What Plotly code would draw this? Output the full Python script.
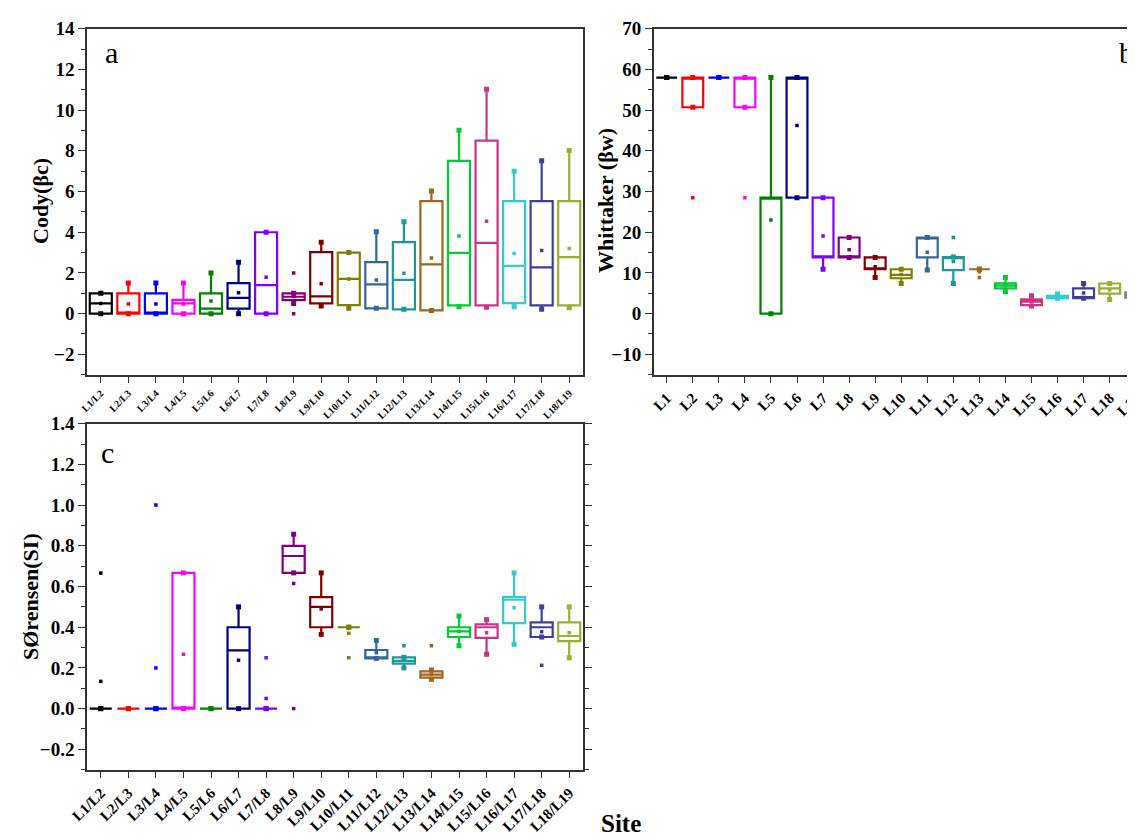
import plotly.graph_objects as go

W, H = 1135, 839

pairs = ["L1/L2", "L2/L3", "L3/L4", "L4/L5", "L5/L6", "L6/L7", "L7/L8", "L8/L9", "L9/L10",
         "L10/L11", "L11/L12", "L12/L13", "L13/L14", "L14/L15", "L15/L16", "L16/L17", "L17/L18", "L18/L19"]
sites = ["L1", "L2", "L3", "L4", "L5", "L6", "L7", "L8", "L9", "L10", "L11", "L12", "L13",
         "L14", "L15", "L16", "L17", "L18", "L19"]

colors = ["#000000", "#FF0000", "#0000FF", "#FF00FF", "#008000", "#000080", "#8000FF", "#800080",
          "#800000", "#808000", "#336699", "#1A9999", "#A0661E", "#00CC33", "#CC3388", "#33CCCC",
          "#3F3F9A", "#99B033", "#808080"]

# Panel a: Cody (beta c)
cody_q1 = [0, 0, 0, 0, 0, 0.25, 0, 0.66, 0.5, 0.42, 0.26, 0.21, 0.16, 0.41, 0.41, 0.52, 0.41, 0.41]
cody_med = [0.5, 0, 0, 0.5, 0.25, 0.77, 1.4, 0.83, 0.85, 1.71, 1.44, 1.66, 2.42, 2.99, 3.48, 2.35, 2.27, 2.78]
cody_q3 = [1, 1, 1, 0.68, 1, 1.5, 4.0, 1.0, 3.02, 3.0, 2.53, 3.51, 5.53, 7.51, 8.5, 5.53, 5.53, 5.53]
cody_lo = [0, 0, 0, 0, 0, 0, 0, 0.5, 0.37, 0.26, 0.26, 0.21, 0.16, 0.34, 0.31, 0.34, 0.21, 0.29]
cody_hi = [1, 1.5, 1.5, 1.5, 2.0, 2.53, 4.0, 1.0, 3.51, 3.0, 4.02, 4.51, 6.02, 9.01, 11.02, 7.0, 7.51, 8.01]
cody_mean = [0.5, 0.47, 0.47, 0.47, 0.62, 1.03, 1.79, 0.85, 1.47, 1.7, 1.65, 1.99, 2.73, 3.81, 4.54, 2.96, 3.1, 3.2]
cody_out = {7: [2.0, 0.0]}

# Panel b: Whittaker (beta w)
wh_q1 = [58, 50.7, 58, 50.7, 0, 28.5, 13.8, 13.8, 10.9, 8.7, 13.8, 10.7, 10.9, 6.2, 2.1, 3.8, 3.8, 4.9, 3.9]
wh_med = [58, 58, 58, 58, 28.5, 58, 13.8, 13.8, 10.9, 9.5, 18.7, 13.9, 10.9, 6.9, 2.95, 4.1, 3.8, 6.2, 4.5]
wh_q3 = [58, 58, 58, 58, 28.5, 58, 28.5, 18.7, 13.8, 10.9, 18.7, 13.9, 10.9, 7.46, 3.5, 4.4, 6.2, 7.4, 5.2]
wh_lo = [58, 50.7, 58, 50.7, 0, 28.5, 10.9, 13.8, 8.85, 7.4, 10.7, 7.4, 10.9, 5.4, 1.9, 3.8, 3.8, 3.5, 2.8]
wh_hi = [58, 58, 58, 58, 58, 58, 28.5, 18.7, 13.8, 10.9, 18.7, 13.9, 10.9, 8.85, 4.4, 4.8, 7.4, 7.4, 5.6]
wh_mean = [58, 50.7, 58, 50.7, 23.0, 46.2, 19.1, 15.7, 11.5, 9.6, 15.1, 12.8, 10.3, 6.9, 2.9, 4.2, 5.1, 5.8, 4.4]
wh_out = {1: [28.5], 3: [28.5], 11: [18.7], 12: [8.85]}

# Panel c: Sorensen (SI)
so_q1 = [0, 0, 0, 0, 0, 0, 0, 0.667, 0.40, 0.40, 0.247, 0.221, 0.152, 0.352, 0.348, 0.42, 0.352, 0.332]
so_med = [0, 0, 0, 0, 0, 0.286, 0, 0.75, 0.50, 0.40, 0.25, 0.235, 0.167, 0.38, 0.40, 0.535, 0.40, 0.357]
so_q3 = [0, 0, 0, 0.667, 0, 0.40, 0, 0.80, 0.548, 0.40, 0.288, 0.252, 0.183, 0.40, 0.414, 0.548, 0.424, 0.424]
so_lo = [0, 0, 0, 0, 0, 0, 0, 0.667, 0.365, 0.40, 0.247, 0.20, 0.144, 0.309, 0.267, 0.316, 0.352, 0.25]
so_hi = [0, 0, 0, 0.667, 0, 0.50, 0, 0.857, 0.667, 0.40, 0.335, 0.252, 0.19, 0.455, 0.437, 0.667, 0.50, 0.50]
so_mean = [0.134, 0, 0.2, 0.267, 0, 0.238, 0.05, 0.667, 0.49, 0.37, 0.275, 0.239, 0.17, 0.38, 0.373, 0.496, 0.378, 0.373]
so_out = {0: [0.666], 2: [1.0], 6: [0.25], 7: [0.615, 0.0], 9: [0.25], 11: [0.309], 12: [0.309], 16: [0.213]}

FONT = "Liberation Serif"
fig = go.Figure()


def add_panel(xa, ya, q1, med, q3, lo, hi, mean, outs):
    for i in range(len(q1)):
        c = colors[i]
        fig.add_trace(go.Box(
            x=[i], q1=[q1[i]], median=[med[i]], q3=[q3[i]],
            lowerfence=[lo[i]], upperfence=[hi[i]],
            width=0.8, whiskerwidth=0, boxpoints=False,
            line=dict(color=c, width=2.2), fillcolor="rgba(0,0,0,0)",
            xaxis=xa, yaxis=ya, showlegend=False, hoverinfo="skip"))
        ys = [lo[i], hi[i]]
        fig.add_trace(go.Scatter(
            x=[i] * 2, y=ys, mode="markers", xaxis=xa, yaxis=ya,
            marker=dict(symbol="square", size=5, color=c), showlegend=False, hoverinfo="skip"))
        pts = [mean[i]] + outs.get(i, [])
        fig.add_trace(go.Scatter(
            x=[i] * len(pts), y=pts, mode="markers", xaxis=xa, yaxis=ya,
            marker=dict(symbol="square", size=3.5, color=c), showlegend=False, hoverinfo="skip"))


add_panel("x", "y", cody_q1, cody_med, cody_q3, cody_lo, cody_hi, cody_mean, cody_out)
add_panel("x2", "y2", wh_q1, wh_med, wh_q3, wh_lo, wh_hi, wh_mean, wh_out)
add_panel("x3", "y3", so_q1, so_med, so_q3, so_lo, so_hi, so_mean, so_out)

xa_dom = [79 / W, 575 / W]
xb_dom = [645.7 / W, 1.0]
yab_dom = [1 - 366.7 / H, 1 - 20.7 / H]
yc_dom = [1 - 761.7 / H, 1 - 415.7 / H]

tickfont_y = dict(family=FONT, size=19, color="black", weight="bold")
base_x = dict(showgrid=False, zeroline=False, showline=True, linecolor="#333", linewidth=1.5,
              ticks="outside", ticklen=7, tickwidth=1.2, tickcolor="#333", tickangle=-45,
              tickmode="array", automargin=False, ticklabeloverflow="allow")
base_y = dict(showgrid=False, zeroline=False, showline=True, linecolor="#333", linewidth=1.5,
              ticks="outside", ticklen=7, tickwidth=1.2, tickcolor="#333", tickfont=tickfont_y,
              automargin=False,
              minor=dict(ticks="outside", ticklen=4, tickwidth=1, tickcolor="#333", showgrid=False))

fig.update_layout(
    width=W, height=H, margin=dict(l=0, r=0, t=0, b=0),
    paper_bgcolor="white", plot_bgcolor="white", boxmode="overlay",
    font=dict(family=FONT, color="black"),
    xaxis=dict(base_x, domain=xa_dom, anchor="y", range=[-0.5, 17.5], mirror=True,
               tickvals=list(range(len(pairs))), ticktext=pairs,
               tickfont=dict(family=FONT, size=10, color="black", weight="bold")),
    yaxis=dict(base_y, domain=yab_dom, anchor="x", range=[-3, 14], mirror=True,
               dtick=2, tick0=0, minor_dtick=1),
    xaxis2=dict(base_x, domain=xb_dom, anchor="y2", range=[-0.5, 18.28], mirror=True,
                tickvals=list(range(len(sites))), ticktext=sites,
                tickfont=dict(family=FONT, size=15, color="black", weight="bold")),
    yaxis2=dict(base_y, domain=yab_dom, anchor="x2", range=[-15, 70], mirror=False,
                dtick=10, tick0=0, minor_dtick=5),
    xaxis3=dict(base_x, domain=xa_dom, anchor="y3", range=[-0.5, 17.5], mirror=True,
                tickvals=list(range(len(pairs))), ticktext=pairs,
                tickfont=dict(family=FONT, size=15, color="black", weight="bold")),
    yaxis3=dict(base_y, domain=yc_dom, anchor="x3", range=[-0.3, 1.4], mirror="ticks",
                dtick=0.2, tick0=0, minor_dtick=0.1, tickformat=".1f"),
)

ann = []
title_font = dict(family=FONT, size=22, color="black")
ann.append(dict(text="<b>Cody(βc)</b>", x=33 / W, y=1 - 193 / H, textangle=-90, font=title_font))
ann.append(dict(text="<b>Whittaker (βw)</b>", x=598 / W, y=1 - 193 / H, textangle=-90, font=title_font))
ann.append(dict(text="<b>SØrensen(SI)</b>", x=22 / W, y=1 - 589 / H, textangle=-90, font=title_font))
ann.append(dict(text="<b>Site</b>", x=613 / W, y=1 - 815 / H, font=dict(family=FONT, size=25, color="black")))
letter_font = dict(family=FONT, size=30, color="black")
ann.append(dict(text="a", x=103 / W, y=1 - 45 / H, font=letter_font))
ann.append(dict(text="b", x=1118 / W, y=1 - 45 / H, font=letter_font))
ann.append(dict(text="c", x=99 / W, y=1 - 444 / H, font=letter_font))
for a in ann:
    a.update(xref="paper", yref="paper", showarrow=False, xanchor="center", yanchor="middle")
fig.update_layout(annotations=ann)

fig.write_html("out.html")
